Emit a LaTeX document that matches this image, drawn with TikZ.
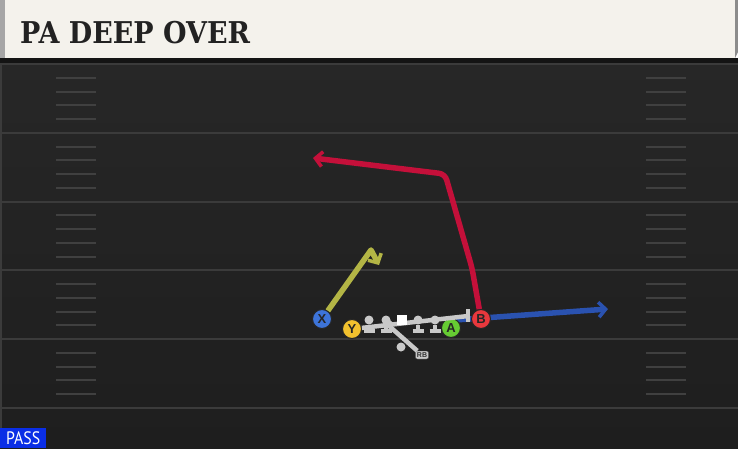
\documentclass[tikz,border=0pt]{standalone}
\usepackage{fontspec}
\usepackage{tikz}
\usetikzlibrary{arrows.meta}
\newfontfamily\titlefont{DejaVu Serif}
\newfontfamily\tagfont{PT Sans}
\newfontfamily\playerfont{Liberation Sans}
\pgfdeclarelayer{bg}
\pgfsetlayers{bg,main}
\definecolor{fieldtop}{HTML}{272727}
\definecolor{fieldbot}{HTML}{1E1E1E}
\definecolor{yardgray}{HTML}{3B3B3B}
\definecolor{hashgray}{HTML}{404040}
\definecolor{titlecream}{HTML}{F4F2EC}
\definecolor{titleink}{HTML}{222222}
\definecolor{passblue}{HTML}{0A2EE6}
\definecolor{olgray}{HTML}{C9C9C9}
\definecolor{xblue}{HTML}{3D74D9}
\definecolor{yyellow}{HTML}{F2C12E}
\definecolor{agreen}{HTML}{66CC33}
\definecolor{bred}{HTML}{E8383D}
\definecolor{redroute}{HTML}{C4103A}
\definecolor{oliveroute}{HTML}{B3B545}
\definecolor{blueroute}{HTML}{2A52B0}
\tikzset{
  player/.style={circle, draw=black!85, line width=1pt, minimum size=19pt,
    inner sep=0pt, text=black!85, font=\playerfont\bfseries\fontsize{13}{13}\selectfont},
  lineman/.style={circle, fill=olgray, minimum size=9pt, inner sep=0pt},
  centerbox/.style={fill=white, minimum size=10pt, inner sep=0pt},
  rbtag/.style={fill=olgray, draw=black!70, rounded corners=2pt, inner sep=1.6pt,
    text=black!80, font=\playerfont\bfseries\fontsize{7}{7}\selectfont},
  formline/.style={draw=olgray, line width=4.5pt},
  route/.style={line width=5.5pt, line join=round,
    -{Straight Barb[length=7pt,width=15pt,line width=3.5pt]}},
  yardline/.style={draw=yardgray, line width=2pt},
  hashmark/.style={draw=hashgray, line width=2pt}
}
\begin{document}
\begin{tikzpicture}[x=1pt,y=-1pt]
        \useasboundingbox (0,0) rectangle (738,448);
        % field and yard lines
        \begin{pgfonlayer}{bg}
                \shade[top color=fieldtop, bottom color=fieldbot] (0,58) rectangle (738,448);
                \draw[yardgray, line width=1.5pt] (1,58) -- (1,448);
                \foreach \j in {0,5,...,25}
                        \draw[yardline] (0,64+13.76*\j) -- (738,64+13.76*\j);
                \foreach \j in {1,...,24} {
                        \pgfmathtruncatemacro{\k}{mod(\j,5)}
                        \ifnum\k>0
                                \draw[hashmark] (56,64+13.76*\j) -- (96,64+13.76*\j);
                                \draw[hashmark] (646,64+13.76*\j) -- (686,64+13.76*\j);
                        \fi
                }
        \end{pgfonlayer}
        % title bar
        \fill[titlecream] (5,0) rectangle (735,58);
        \fill[black!35] (0,0) rectangle (5,58);
        \fill[black!45] (735,0) -- (738,0) -- (738,52) -- (735,58) -- cycle;
        \fill[black!92] (0,58) rectangle (738,63);
        \node (title) [anchor=west, inner sep=0pt, text=titleink, xscale=0.9,
                font=\titlefont\bfseries\fontsize{30}{30}\selectfont] at (20,33) {PA DEEP OVER};
        % play tag
        \node (tag) [fill=passblue, anchor=south west, minimum width=46pt,
                minimum height=20pt, inner sep=0pt] at (0,448) {};
        \node [text=white, xscale=0.88, inner sep=0pt,
                font=\tagfont\fontsize{18}{18}\selectfont] at (tag.center) {PASS};
        % players
        \node (X) [player, fill=xblue] at (322,319) {X};
        \node (Y) [player, fill=yyellow] at (352,329) {Y};
        \node (A) [player, fill=agreen] at (451,328) {A};
        \node (B) [player, fill=bred] at (481,319) {B};
        \node (qb) [lineman] at (401,347) {};
        \node (rb) [rbtag] at (422,355) {RB};
        \coordinate (barend) at (468,316);
        \coordinate (fake) at (388,325);
        \draw[formline] (Y) -- (barend);
        \draw[olgray, line width=3.5pt] (468,309) -- (468,322);
        \foreach \n/\x in {lt/369, lg/386, rg/418, rt/435} {
                \node (\n) [lineman] at (\x,320) {};
                \draw[olgray, line width=3.5pt] (\n) -- (\x,331);
                \draw[olgray, line width=3.5pt] (\x-5.5,331) -- (\x+5.5,331);
        }
        \node (c) [centerbox] at (402,320) {};
        \draw[formline] (rb) -- (fake);
        \draw[olgray, line width=3.5pt] (384.7,328.8) -- (391.3,321.2);
        % routes
        \coordinate (r1) at (472,268);
        \coordinate (r2) at (445,174);
        \coordinate (redend) at (313,158);
        \coordinate (o1) at (371,250);
        \coordinate (oliveend) at (379,265);
        \coordinate (bluestart) at (455,320);
        \coordinate (blueend) at (608,309);
        \begin{pgfonlayer}{bg}
                \draw[route, redroute, rounded corners=6pt] (B) -- (r1) -- (r2) -- (redend);
                \draw[route, oliveroute] (X) -- (o1) -- (oliveend);
                \draw[route, blueroute] (bluestart) -- (blueend);
        \end{pgfonlayer}
\end{tikzpicture}
\end{document}
